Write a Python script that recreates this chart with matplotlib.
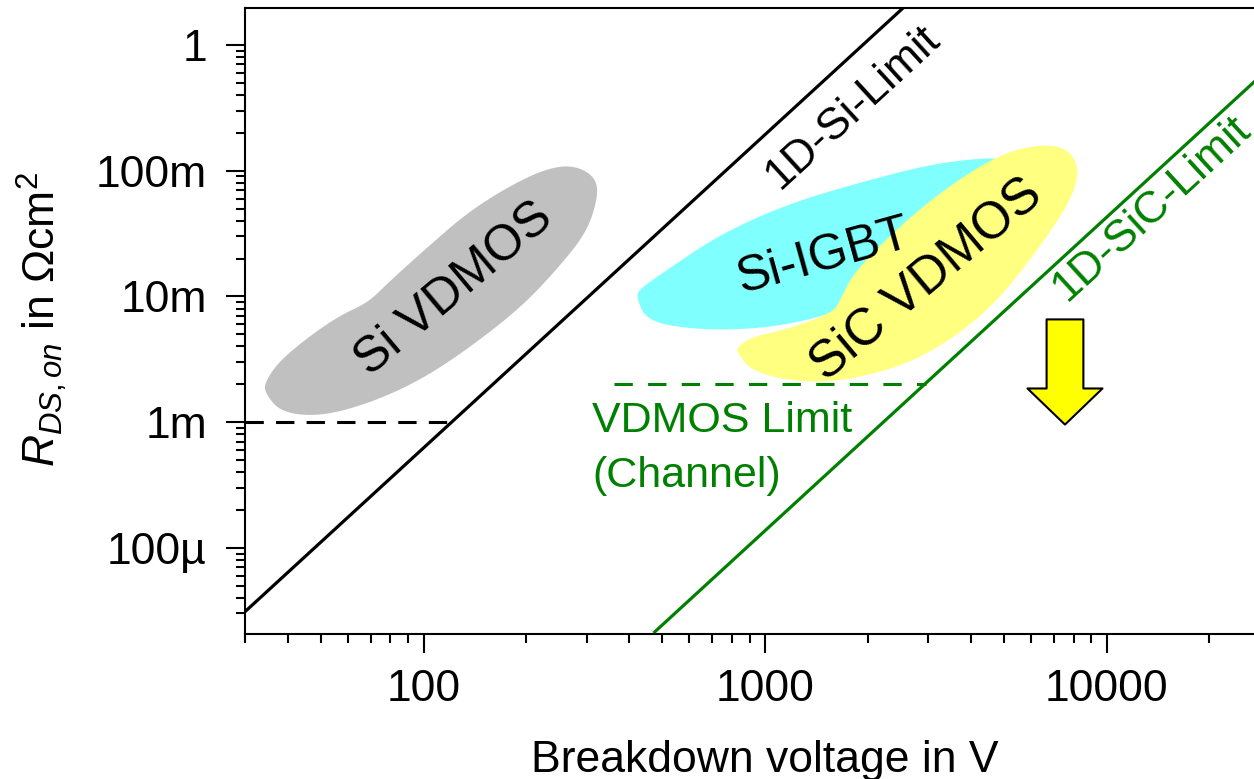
import matplotlib
matplotlib.use("Agg")
import matplotlib.pyplot as plt
import numpy as np
from matplotlib.ticker import LogLocator, FixedLocator, FixedFormatter, NullFormatter

plt.rcParams['font.family'] = ['Liberation Sans', 'DejaVu Sans']
plt.rcParams['mathtext.fontset'] = 'custom'
plt.rcParams['mathtext.rm'] = 'Liberation Sans'
plt.rcParams['mathtext.it'] = 'Liberation Sans:italic'

# tick labels
y_ticks = [1e-4, 1e-3, 1e-2, 1e-1, 1]
y_tick_labels = ['100µ', '1m', '10m', '100m', '1']
x_ticks = [100, 1000, 10000]
x_tick_labels = ['100', '1000', '10000']

# 1D limit lines (breakdown voltage V, specific on-resistance Ohm*cm^2)
si_limit_v = [30, 2600]
si_limit_r = [3.1e-5, 2.1]
sic_limit_v = [475, 30000]
sic_limit_r = [2.14e-5, 0.66]

# horizontal limits
si_vdmos_limit_v = [30, 121]
si_vdmos_limit_r = [1e-3, 1e-3]
channel_limit_v = [362, 2950]
channel_limit_r = [2e-3, 2e-3]

# device regions (outlines)
si_vdmos_v = [34.3, 38.2, 50.1, 70.3, 98.7, 138, 194, 250, 300, 323, 321, 286,
              244, 194, 138, 101, 78.9, 68.9, 56.2, 45.0, 37.5, 34.3]
si_vdmos_r = [1.72e-3, 1.19e-3, 1.11e-3, 1.43e-3, 2.18e-3, 4.0e-3, 8.3e-3, 1.73e-2,
              3.24e-2, 5.93e-2, 8.56e-2, 0.107, 0.109, 0.0856, 0.0493, 0.0237,
              0.0129, 8.96e-3, 6.93e-3, 4.54e-3, 2.98e-3, 2.06e-3]

si_igbt_v = [420, 444, 526, 738, 1107, 1662, 2495, 3747, 4910, 5012, 4590, 3055,
             1815, 1161, 738, 508, 429]
si_igbt_r = [1.0e-2, 6.8e-3, 5.77e-3, 5.36e-3, 5.77e-3, 7.6e-3, 1.37e-2, 3.42e-2,
             7.8e-2, 0.119, 0.128, 0.113, 7.8e-2, 5.41e-2, 3.12e-2, 1.58e-2, 1.14e-2]

sic_vdmos_v = [827, 922, 1294, 1815, 2857, 4498, 6310, 7890, 8330, 7730, 6577, 5012,
               3573, 2547, 1815, 1662, 1585, 1161, 922, 833]
sic_vdmos_r = [3.58e-3, 2.48e-3, 2.06e-3, 2.18e-3, 3.15e-3, 7.46e-3, 2.37e-2, 5.93e-2,
               0.103, 0.148, 0.163, 0.140, 8.1e-2, 3.89e-2, 1.55e-2, 9.46e-3, 7.46e-3,
               5.46e-3, 4.8e-3, 4.0e-3]

# improvement arrow
arrow_v = 7550
arrow_r_start = 6.56e-3
arrow_r_end = 9.55e-4

green = '#008000'


def smooth_outline(vs, rs, rounds=3):
    # corner cutting in log space so the blobs come out rounded
    pts = np.column_stack([np.log10(vs), np.log10(rs)])
    for _ in range(rounds):
        nxt = np.roll(pts, -1, axis=0)
        q = 0.75 * pts + 0.25 * nxt
        r = 0.25 * pts + 0.75 * nxt
        pts = np.empty((2 * len(q), 2))
        pts[0::2] = q
        pts[1::2] = r
    return 10 ** pts[:, 0], 10 ** pts[:, 1]


fig = plt.figure(figsize=(12.54, 7.79), dpi=100)
ax = fig.add_axes([245 / 1254, 1 - 634 / 779, 1 - 245 / 1254, 626 / 779])
ax.set_xscale('log')
ax.set_yscale('log')
ax.set_xlim(30, 27000)
ax.set_ylim(2.06e-5, 1.97)

# regions
ax.fill(*smooth_outline(si_vdmos_v, si_vdmos_r), color='#c0c0c0', lw=0, zorder=1)
ax.fill(*smooth_outline(si_igbt_v, si_igbt_r), color='#80ffff', lw=0, zorder=1)
ax.fill(*smooth_outline(sic_vdmos_v, sic_vdmos_r), color='#ffff80', lw=0, zorder=1)

# limit lines
ax.plot(si_limit_v, si_limit_r, color='black', lw=2.3, zorder=2)
ax.plot(sic_limit_v, sic_limit_r, color=green, lw=2.3, zorder=2)
ax.plot(si_vdmos_limit_v, si_vdmos_limit_r, color='black', lw=2.2, dashes=(6, 4), zorder=2)
ax.plot(channel_limit_v, channel_limit_r, color=green, lw=2.2, dashes=(6, 5), zorder=2)

# arrow
ax.annotate('', xy=(arrow_v, arrow_r_end), xytext=(arrow_v, arrow_r_start),
            arrowprops=dict(arrowstyle='simple,head_length=26,head_width=54,tail_width=26.5',
                            mutation_scale=1, fc='#ffff00', ec='black', lw=1.5,
                            shrinkA=0, shrinkB=0), zorder=3)

# labels
ax.text(122.6, 0.0114, 'Si VDMOS', fontsize=36, rotation=40,
        ha='center', va='center', rotation_mode='anchor', zorder=4)
ax.text(1483, 0.0205, 'Si-IGBT', fontsize=36, rotation=15.5,
        ha='center', va='center', rotation_mode='anchor', zorder=4)
ax.text(2956, 0.0137, 'SiC VDMOS', fontsize=37, rotation=40,
        ha='center', va='center', rotation_mode='anchor', zorder=4)
ax.text(1803, 0.321, '1D-Si-Limit', fontsize=32, rotation=42.5,
        ha='center', va='center', rotation_mode='anchor', zorder=4)
ax.text(7620, 8.96e-3, '1D-SiC-Limit', fontsize=32, rotation=42.5, color=green,
        ha='left', va='baseline', rotation_mode='anchor', zorder=4, clip_on=False)
ax.text(312, 8.4e-4, 'VDMOS Limit', fontsize=31, color=green,
        ha='left', va='baseline', zorder=4)
ax.text(312, 3.06e-4, '(Channel)', fontsize=31, color=green,
        ha='left', va='baseline', zorder=4)

# axes styling
ax.spines['right'].set_visible(False)
for s in ['left', 'bottom', 'top']:
    ax.spines[s].set_linewidth(1.5)
ax.tick_params(which='both', direction='out', width=1.5, top=False, right=False)
ax.tick_params(which='major', length=13.5, labelsize=32)
ax.tick_params(which='minor', length=6.5)
ax.tick_params(axis='x', which='major', pad=12)
ax.tick_params(axis='y', which='major', pad=14)

ax.xaxis.set_major_locator(FixedLocator(x_ticks))
ax.xaxis.set_major_formatter(FixedFormatter(x_tick_labels))
ax.xaxis.set_minor_locator(LogLocator(base=10, subs=range(2, 10), numticks=20))
ax.xaxis.set_minor_formatter(NullFormatter())
ax.yaxis.set_major_locator(FixedLocator(y_ticks))
ax.yaxis.set_major_formatter(FixedFormatter(y_tick_labels))
ax.yaxis.set_minor_locator(LogLocator(base=10, subs=range(2, 10), numticks=20))
ax.yaxis.set_minor_formatter(NullFormatter())

fig.text(765 / 1254, 1 - 772 / 779, 'Breakdown voltage in V', fontsize=32,
         ha='center', va='baseline')
fig.text(42 / 1254, 1 - 319 / 779, r'$R_{DS,on}$ in $\Omega$cm$^2$', fontsize=32,
         rotation=90, ha='center', va='center')

fig.savefig('out.png', dpi=100)
